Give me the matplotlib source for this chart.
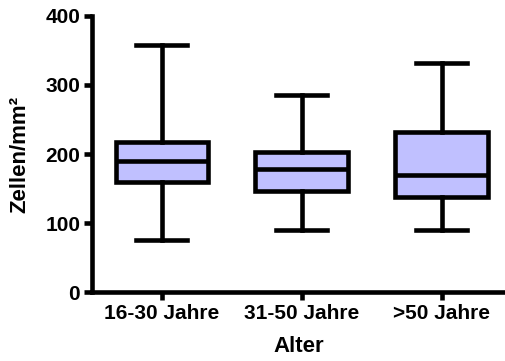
import matplotlib
matplotlib.use("Agg")
import matplotlib.pyplot as plt

# Cell density per age group (box-and-whisker summary, min to max)
groups = ["16-30 Jahre", "31-50 Jahre", ">50 Jahre"]
whisker_low = [76, 90, 90]
q1 = [160, 146, 138]
median = [190, 179, 170]
q3 = [217, 203, 232]
whisker_high = [358, 285, 332]

y_ticks = [0, 100, 200, 300, 400]

plt.rcParams["font.family"] = ["Liberation Sans", "DejaVu Sans"]
plt.rcParams["font.weight"] = "bold"

fig = plt.figure(figsize=(5.06, 3.61), dpi=100)
ax = fig.add_axes([0.1818, 0.1903, 0.8182, 0.7662])

stats = []
for name, lo, a, m, b, hi in zip(groups, whisker_low, q1, median, q3, whisker_high):
    stats.append(dict(label=name, whislo=lo, q1=a, med=m, q3=b, whishi=hi, fliers=[]))

lw = 3.3
ax.bxp(
    stats,
    positions=[1, 2, 3],
    widths=0.66,
    patch_artist=True,
    showfliers=False,
    boxprops=dict(facecolor="#c0c0ff", edgecolor="black", linewidth=lw),
    medianprops=dict(color="black", linewidth=lw, solid_capstyle="butt"),
    whiskerprops=dict(color="black", linewidth=lw),
    capprops=dict(color="black", linewidth=lw),
    capwidths=0.36,
)

ax.set_xlim(0.502, 3.46)
ax.set_ylim(0, 400)
ax.set_yticks(y_ticks)
ax.set_xticks([1, 2, 3])
ax.set_xticklabels(groups)

for side in ("top", "right"):
    ax.spines[side].set_visible(False)
for side in ("left", "bottom"):
    ax.spines[side].set_linewidth(lw)
    ax.spines[side].set_capstyle("projecting")

ax.tick_params(axis="both", direction="out", length=6, width=lw,
               labelsize=15, pad=2.5)
for lab in ax.get_xticklabels() + ax.get_yticklabels():
    lab.set_fontweight("bold")

ax.set_xlabel("Alter", fontsize=16, fontweight="bold", labelpad=9)
ax.set_ylabel("Zellen/mm²", fontsize=16, fontweight="bold", labelpad=11)

fig.savefig("out.png", dpi=100)
